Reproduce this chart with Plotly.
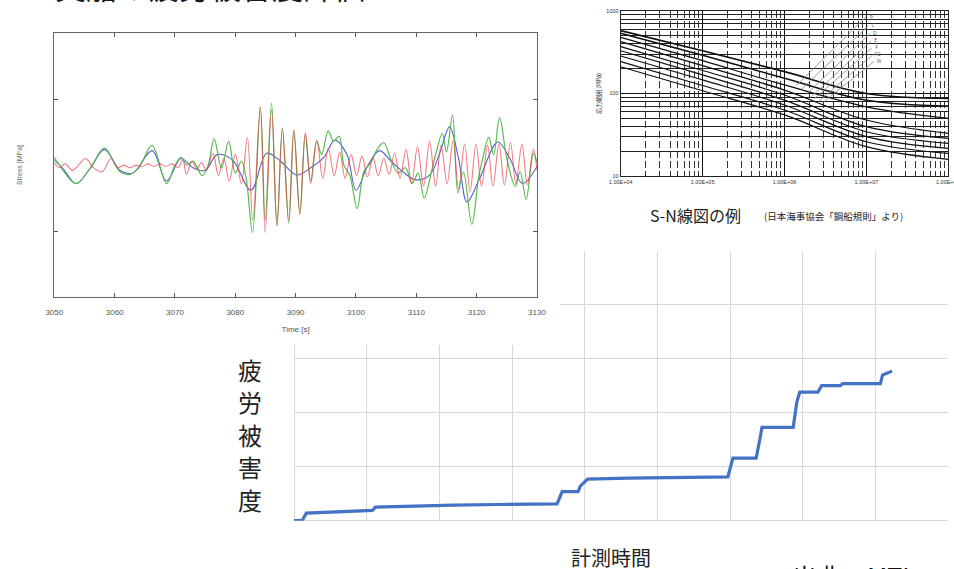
import plotly.graph_objects as go

# ---------------- fatigue damage accumulation (main chart) ----------------
damage_t = [0.0, 0.11, 0.17, 0.5, 1.08, 1.12, 1.6, 2.2, 2.8, 3.3, 3.62, 3.69, 3.91, 3.94, 4.04, 4.6, 5.3, 5.97, 6.04, 6.36, 6.41, 6.44, 6.87, 6.92, 6.96, 7.21, 7.26, 7.52, 7.55, 8.07, 8.1, 8.23]
damage_v = [0.0, 0.0, 0.14, 0.16, 0.19, 0.25, 0.27, 0.29, 0.30, 0.31, 0.31, 0.54, 0.54, 0.64, 0.77, 0.79, 0.80, 0.81, 1.16, 1.16, 1.5, 1.73, 1.73, 2.2, 2.38, 2.38, 2.5, 2.5, 2.54, 2.54, 2.70, 2.77]
damage_title = ["疲", "労", "被", "害", "度"]

# ---------------- stress time history ----------------
blue_t = [3050, 3051.5, 3053.6, 3056, 3058.3, 3060.9, 3063, 3066.2, 3068.6, 3071, 3073, 3075, 3077, 3079.5, 3082.6, 3085.2, 3087.5, 3090.2, 3092.5, 3094.7, 3096.5, 3098.5, 3100, 3102, 3103.9, 3105.8, 3107.5, 3109.8, 3112.2, 3113.8, 3115.5, 3117, 3118.4, 3120.5, 3123.5, 3125.5, 3127.6, 3130]
blue_s = [4, -3, -14, -2, 12, -4, -6, 11, -12, 5, -2, -4, 8, 4, -19, 9, 3, -7.5, -2, 6, 19, 8, -19, 0, 11, 3, -4, -11, -7.5, 8, 29, 5, -28, -10, 17.6, 5, -14, -1]

green_t = [3050, 3051, 3053.6, 3056, 3058.3, 3060.9, 3062.5, 3064, 3066.2, 3068.6, 3070, 3071, 3072, 3073, 3074.5, 3075.5, 3076.5, 3077.7, 3078.9, 3080, 3081, 3081.8, 3082.85, 3084.15, 3084.95, 3086.0, 3086.9, 3087.8, 3088.85, 3089.7, 3090.7, 3091.6, 3092.5, 3093.5, 3094.3, 3095.4, 3096.3, 3097.2, 3098, 3099, 3100.2, 3101.3, 3102.5, 3103.5, 3104.6, 3105.8, 3107, 3108.2, 3109.3, 3110.3, 3111.3, 3112.5, 3113.3, 3114.3, 3115, 3116, 3116.9, 3117.8, 3119.2, 3120.3, 3121, 3122, 3122.8, 3123.8, 3125, 3126.4, 3127.2, 3128.2, 3129.4, 3130]
green_s = [6, -1, -14, -2, 13, -5, -7, -2, 15, -14, 0, 6, 0, 3, -8, 0, 20, -2, 18, -6, 3, -10, -51, 44, -42, 47, -46, 28, -44, 26, -37, 23, -12, 18, 8, 26, 18, 22, 0, -8, -33, -5, 2, 12, 17, 4, -6, -2, -14, -6, -25, -5, 10, 24, 10, 38, -21, -5, -45, -10, 5, 21, 8, 36, 5, -16, -5, -26, 9, 2]

red_t = [3050, 3050.8, 3051.8, 3053, 3054, 3055.2, 3056.5, 3057.9, 3059.4, 3060.5, 3061.5, 3062.5, 3063.5, 3064.5, 3065.5, 3066.5, 3067.5, 3068.5, 3069.5, 3070.5, 3071.3, 3071.9, 3072.8, 3073.6, 3074.4, 3075.2, 3076.3, 3077.2, 3078.1, 3079, 3080, 3081, 3082, 3082.9, 3084.15, 3084.95, 3086.0, 3086.9, 3087.8, 3088.85, 3089.7, 3090.7, 3091.6, 3092.5, 3093.5, 3094.5, 3095.4, 3096.4, 3097.3, 3098.2, 3099.2, 3100.1, 3101, 3101.9, 3102.8, 3103.7, 3104.6, 3105.5, 3106.4, 3107.3, 3108.3, 3109.2, 3110.2, 3111.2, 3112.2, 3113.2, 3114.1, 3115.1, 3116.1, 3117.0, 3118.0, 3118.9, 3119.9, 3120.8, 3121.8, 3122.7, 3123.7, 3124.6, 3125.6, 3126.5, 3127.5, 3128.4, 3129.4, 3130]
red_s = [2, -2, 1, -4, 0, 5, -2, -5, 5, -2, 0, -2, 0, -1, 1, -1, 1, -1, 1, -2, 4, -7, 3, -3, 2, -4, 9, -8, 5, -12, 8, -14, 21, -42, 44, -51, 42, -46, 28, -42, 27, -37, 25, -14, 19, -10, 13, -8, 10, -10, 8, -8, 7, -9, 6, -8, 5, -7, 9, -10, 12, -14, 14, -16, 18, -16, 15, -14, 19, -18, 16, -20, 16, -16, 15, -16, 16, -15, 17, -14, 16, -15, 12, -4]

time_ticks = [3050, 3060, 3070, 3080, 3090, 3100, 3110, 3120, 3130]

# ---------------- S-N design curves ----------------
sn_cycles = [1e4, 1e5, 1e6, 1e7, 1e8]
sn_curves = [
    [578, 330, 184, 100, 87],
    [536, 290, 153, 83, 70.5],
    [480, 250, 127, 69, 50],
    [425, 218, 110, 47.7, 32.9],
    [370, 190, 96, 39.6, 28.6],
    [330, 168, 83, 34.4, 24.9],
    [285, 146, 72.5, 30, 21.6],
    [243, 125, 63, 26, 18.8],
    [211, 108, 55, 22.7, 15.9],
]
# thin rising lines (low-cycle branch) and their class letters
rise_n0 = [1.4e6, 1.6e6, 1.85e6, 2.1e6, 2.3e6, 2.6e6, 2.9e6]
rise_s0 = [125, 112, 98, 90, 86, 80, 77]
rise_n1 = [1.0e7, 1.05e7, 1.1e7, 1.13e7, 1.16e7, 1.2e7, 1.24e7]
rise_s1 = [860, 660, 530, 430, 355, 295, 245]
rise_labels = ["B", "C", "D", "E", "F", "F2", "W"]
sn_xticks = [1e4, 1e5, 1e6, 1e7, 1e8]
sn_xticktext = ["1.00E+04", "1.00E+05", "1.00E+06", "1.00E+07", "1.00E+08"]
sn_yticks = [10, 100, 1000]

W, H = 954, 569


def px_x(v):
    return v / W


def px_y(v):
    return 1 - v / H


fig = go.Figure()

# main damage curve
fig.add_trace(go.Scatter(x=damage_t, y=damage_v, mode="lines",
                         line=dict(color="#4472C4", width=3.2),
                         xaxis="x", yaxis="y", showlegend=False, hoverinfo="skip"))

# stress histories
fig.add_trace(go.Scatter(x=blue_t, y=blue_s, mode="lines", line_shape="spline",
                         line=dict(color="#5a5ed4", width=1.1),
                         xaxis="x2", yaxis="y2", showlegend=False, hoverinfo="skip"))
fig.add_trace(go.Scatter(x=green_t, y=green_s, mode="lines", line_shape="spline",
                         line=dict(color="#58bc50", width=1.2),
                         xaxis="x2", yaxis="y2", showlegend=False, hoverinfo="skip"))
fig.add_trace(go.Scatter(x=red_t, y=red_s, mode="lines", line_shape="spline",
                         line=dict(color="#e8404a", width=1.1), opacity=0.68,
                         xaxis="x2", yaxis="y2", showlegend=False, hoverinfo="skip"))

# S-N curves
for k, s in enumerate(sn_curves):
    fig.add_trace(go.Scatter(x=sn_cycles, y=s, mode="lines", line_shape="spline",
                             line=dict(color="#111", width=1.6 if k < 2 else 1.2),
                             xaxis="x3", yaxis="y3", showlegend=False, hoverinfo="skip"))
for n0, s0, n1, s1 in zip(rise_n0, rise_s0, rise_n1, rise_s1):
    fig.add_trace(go.Scatter(x=[n0, n1], y=[s0, s1], mode="lines",
                             line=dict(color="#888", width=0.8),
                             xaxis="x3", yaxis="y3", showlegend=False, hoverinfo="skip"))
fig.add_trace(go.Scatter(x=[n * 1.15 for n in rise_n1], y=rise_s1, mode="text",
                         text=rise_labels, textfont=dict(size=5, color="#555"),
                         xaxis="x3", yaxis="y3", showlegend=False, hoverinfo="skip"))

grid_c = "#d9d9d9"
tick_font = dict(family="Liberation Sans, Arial", size=8, color="#555")
sn_font = dict(family="Liberation Sans, Arial", size=5.5, color="#333")

fig.update_layout(
    width=W, height=H, margin=dict(l=0, r=0, t=0, b=0, autoexpand=False),
    paper_bgcolor="white", plot_bgcolor="rgba(0,0,0,0)",
    # main chart
    xaxis=dict(domain=[px_x(294), px_x(948)], range=[0, 9], dtick=1,
               showgrid=True, gridcolor=grid_c, gridwidth=1.2,
               zeroline=True, zerolinecolor=grid_c, zerolinewidth=1.2,
               showticklabels=False, ticks="", showline=False, fixedrange=True,
               automargin=False),
    yaxis=dict(domain=[px_y(520.7), px_y(250.7)], range=[0, 5], dtick=1,
               showgrid=True, gridcolor=grid_c, gridwidth=1.2,
               zeroline=True, zerolinecolor=grid_c, zerolinewidth=1.2,
               showticklabels=False, ticks="", showline=False, fixedrange=True,
               automargin=False),
    # stress chart
    xaxis2=dict(domain=[px_x(54.3), px_x(537)], range=[3050, 3130], anchor="y2",
                tickvals=time_ticks, ticks="inside", ticklen=4, tickcolor="#555",
                showline=True, linecolor="#666", linewidth=1.2, mirror="ticks",
                showgrid=False, zeroline=False, tickfont=tick_font,
                ticklabelstandoff=7, automargin=False,
                title=dict(text="Time.[s]", font=dict(family="Liberation Sans, Arial", size=8, color="#555"),
                           standoff=10)),
    yaxis2=dict(domain=[px_y(297), px_y(33.3)], range=[-100, 100], anchor="x2",
                tickvals=[-50, 50], ticks="inside", ticklen=4, tickcolor="#555",
                showline=True, linecolor="#666", linewidth=1.2, mirror="ticks",
                showgrid=False, zeroline=False, showticklabels=False, automargin=False),
    # S-N chart
    xaxis3=dict(domain=[px_x(620.7), px_x(948.3)], type="log", range=[4, 8], anchor="y3",
                tickvals=sn_xticks, ticktext=sn_xticktext, ticks="", tickfont=sn_font,
                showgrid=True, gridcolor="#111", gridwidth=1.1,
                minor=dict(dtick="D1", showgrid=True, gridcolor="#333", gridwidth=0.8, griddash="7px,3px"),
                showline=True, linecolor="#222", linewidth=1, mirror=True, zeroline=False,
                automargin=False),
    yaxis3=dict(domain=[px_y(176), px_y(11)], type="log", range=[1, 3], anchor="x3",
                tickvals=sn_yticks, ticks="", tickfont=sn_font,
                showgrid=True, gridcolor="#111", gridwidth=1.1,
                minor=dict(dtick="D1", showgrid=True, gridcolor="#222", gridwidth=0.7),
                showline=True, linecolor="#222", linewidth=1, mirror=True, zeroline=False,
                automargin=False,
                title=dict(text="応力範囲 (MPa)", font=dict(family="Noto Sans CJK JP", size=6, color="#333"),
                           standoff=4)),
)

# white panel behind the stress chart, hiding the damage grid underneath
fig.add_shape(type="rect", xref="x", yref="y", x0=-1, x1=(560 - 294) / 72.7,
              y0=(520.7 - 345) / 54, y1=6, fillcolor="white", line_width=0, layer="between")

jp = "Noto Sans CJK JP"
annots = [
    dict(text="Stress [MPa]", x=px_x(20), y=px_y(165), textangle=-90,
         font=dict(family="Liberation Sans, Arial", size=7, color="#666")),
    dict(text="・実船の疲労被害度評価", x=px_x(22), y=px_y(10), xanchor="left", yanchor="bottom",
         font=dict(family=jp, size=31, color="#1a1a1a")),
    dict(text="計測時間", x=px_x(611), y=px_y(557),
         font=dict(family=jp, size=20, color="#222")),
    dict(text="出典：MTI", x=px_x(790), y=px_y(556), xanchor="left", yanchor="top",
         font=dict(family=jp, size=25, color="#111")),
    dict(text="S-N線図の例", x=px_x(648), y=px_y(215), xanchor="left",
         font=dict(family=jp, size=16, color="#222")),
    dict(text="(日本海事協会「鋼船規則」より)", x=px_x(762), y=px_y(216), xanchor="left",
         font=dict(family=jp, size=9.5, color="#222")),
]
# vertical axis caption of the damage chart, one character per line
for i, ch in enumerate(damage_title):
    annots.append(dict(text=ch, x=px_x(250), y=px_y(369 + 32.5 * i),
                       font=dict(family=jp, size=24, color="#222")))
# last S-N tick label runs past the right edge of the figure
annots.append(dict(text=sn_xticktext[-1], xref="x3", x=8, y=px_y(182),
                   font=sn_font))
for a in annots:
    a.setdefault("xanchor", "center")
    a.setdefault("yanchor", "middle")
    a.setdefault("xref", "paper")
    fig.add_annotation(yref="paper", showarrow=False, **a)

fig.write_html("out.html")
